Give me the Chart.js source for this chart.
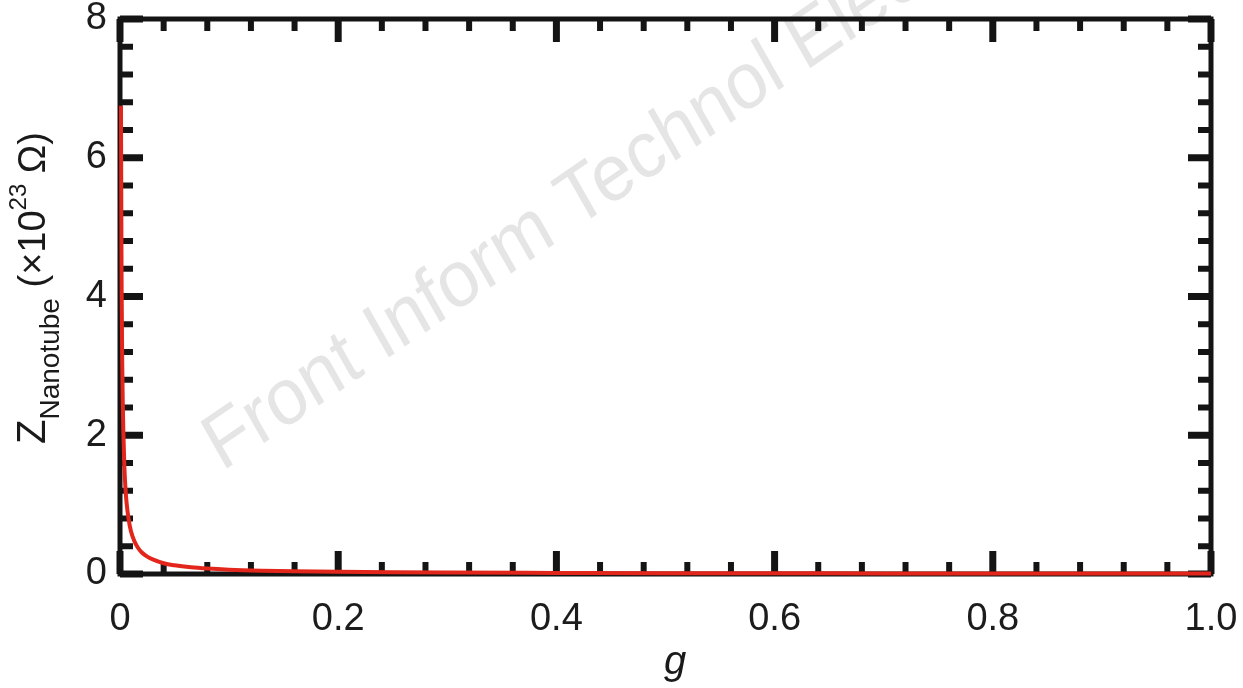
<!DOCTYPE html>
<html>
<head>
<meta charset="utf-8">
<script src="https://cdn.jsdelivr.net/npm/chart.js@4.4.0/dist/chart.umd.min.js"></script>
<style>
  html, body { margin: 0; padding: 0; background: #fff; }
  #wrap { width: 1243px; height: 688px; }
</style>
</head>
<body>
<div id="wrap"><canvas id="zChart"></canvas></div>
<script>
// values
const gValues = [0.0009, 0.001, 0.0012, 0.0015, 0.002, 0.0025, 0.003, 0.004, 0.005, 0.006, 0.008,
  0.01, 0.013, 0.016, 0.02, 0.025, 0.03, 0.04, 0.05, 0.065, 0.08, 0.1, 0.13, 0.16, 0.2,
  0.25, 0.3, 0.4, 0.5, 0.6, 0.7, 0.8, 0.9, 1.0];
const zValues = [6.75, 6.2, 5.2, 4.1, 3.1, 2.5, 2.1, 1.55, 1.24, 1.03, 0.78,
  0.62, 0.48, 0.39, 0.31, 0.25, 0.21, 0.155, 0.125, 0.096, 0.078, 0.062, 0.048, 0.039, 0.031,
  0.025, 0.021, 0.016, 0.012, 0.01, 0.009, 0.008, 0.007, 0.006];

const xMajorTicks = [0, 0.2, 0.4, 0.6, 0.8, 1.0];
const xTickLabels = ["0", "0.2", "0.4", "0.6", "0.8", "1.0"];
const xMinorStep = 0.04;
const yMajorTicks = [0, 2, 4, 6, 8];
const yTickLabels = ["0", "2", "4", "6", "8"];
const yMinorStep = 0.4;

const watermarkText = "Front Inform Technol Electron Eng";
const FONT = "'Liberation Sans', Arial, Helvetica, sans-serif";

const points = gValues.map((g, i) => ({ x: g, y: zValues[i] }));

// light grey watermark behind everything
const watermark = {
  id: "watermark",
  beforeDatasetsDraw(chart) {
    const ctx = chart.ctx;
    ctx.save();
    ctx.translate(222, 472);
    ctx.scale(0.91, 1);
    ctx.rotate(-32 * Math.PI / 180);
    ctx.font = "80px " + FONT;
    ctx.fillStyle = "#e5e5e5";
    ctx.textBaseline = "alphabetic";
    ctx.fillText(watermarkText, 0, 0);
    ctx.restore();
  }
};

// box frame with inward ticks on all four sides
const frame = {
  id: "frame",
  beforeDatasetsDraw(chart) {
    const ctx = chart.ctx;
    const { left, right, top, bottom } = chart.chartArea;
    const xs = chart.scales.x, ys = chart.scales.y;
    ctx.save();
    ctx.strokeStyle = "#141414";
    ctx.lineCap = "butt";

    function seg(x1, y1, x2, y2) {
      ctx.beginPath();
      ctx.moveTo(x1, y1);
      ctx.lineTo(x2, y2);
      ctx.stroke();
    }

    // minor ticks
    ctx.lineWidth = 6;
    const nx = Math.round(1 / xMinorStep);
    for (let i = 1; i < nx; i++) {
      const v = i * xMinorStep;
      if (xMajorTicks.some(m => Math.abs(m - v) < 1e-6)) continue;
      const px = xs.getPixelForValue(v);
      seg(px, bottom, px, bottom - 12);
      seg(px, top, px, top + 12);
    }
    const ny = Math.round(8 / yMinorStep);
    for (let i = 1; i < ny; i++) {
      const v = i * yMinorStep;
      if (yMajorTicks.some(m => Math.abs(m - v) < 1e-6)) continue;
      const py = ys.getPixelForValue(v);
      seg(left, py, left + 13, py);
      seg(right, py, right - 13, py);
    }

    // major ticks
    ctx.lineWidth = 7;
    xMajorTicks.forEach(v => {
      const px = xs.getPixelForValue(v);
      seg(px, bottom, px, bottom - 23);
      seg(px, top, px, top + 23);
    });
    yMajorTicks.forEach(v => {
      const py = ys.getPixelForValue(v);
      seg(left, py, left + 23, py);
      seg(right, py, right - 23, py);
    });

    ctx.lineWidth = 5;
    ctx.strokeRect(left, top, right - left, bottom - top);
    ctx.restore();
  }
};

// axis titles with sub/superscripts
const axisTitles = {
  id: "axisTitles",
  afterDraw(chart) {
    const ctx = chart.ctx;
    ctx.save();
    ctx.fillStyle = "#1a1a1a";
    ctx.textBaseline = "alphabetic";

    // x title
    ctx.font = "italic 40px " + FONT;
    ctx.textAlign = "center";
    ctx.fillText("g", 675, 674);

    // y title, rotated
    const parts = [
      { t: "Z", f: "40px " + FONT, dy: 0 },
      { t: "Nanotube", f: "28px " + FONT, dy: 14 },
      { t: " (×10", f: "38px " + FONT, dy: 0 },
      { t: "23", f: "24px " + FONT, dy: -19 },
      { t: " Ω)", f: "38px " + FONT, dy: 0 }
    ];
    let total = 0;
    parts.forEach(p => { ctx.font = p.f; p.w = ctx.measureText(p.t).width; total += p.w; });
    ctx.translate(45, 288);
    ctx.rotate(-Math.PI / 2);
    ctx.textAlign = "left";
    let x = -total / 2;
    parts.forEach(p => {
      ctx.font = p.f;
      ctx.fillText(p.t, x, p.dy);
      x += p.w;
    });
    ctx.restore();
  }
};

new Chart(document.getElementById("zChart"), {
  type: "scatter",
  data: {
    datasets: [
      {
        label: "Z",
        data: points,
        showLine: true,
        borderColor: "#e3261c",
        borderWidth: 4,
        pointRadius: 0,
        cubicInterpolationMode: "monotone",
        clip: false
      }
    ]
  },
  options: {
    responsive: true,
    maintainAspectRatio: false,
    animation: false,
    layout: { padding: { left: 0, right: 32, top: 19, bottom: 0 } },
    plugins: { legend: { display: false }, tooltip: { enabled: false } },
    scales: {
      x: {
        type: "linear",
        min: 0,
        max: 1,
        afterBuildTicks: (s) => { s.ticks = xMajorTicks.map(v => ({ value: v })); },
        ticks: {
          callback: (v, i) => xTickLabels[i],
          font: { size: 38, family: FONT },
          color: "#1c1c1c",
          padding: 23,
          maxRotation: 0,
          autoSkip: false
        },
        grid: { display: false, drawTicks: false },
        border: { display: false },
        afterFit: (s) => { s.height = 114; s.paddingLeft = 0; s.paddingRight = 0; }
      },
      y: {
        type: "linear",
        min: 0,
        max: 8,
        afterBuildTicks: (s) => { s.ticks = yMajorTicks.map(v => ({ value: v })); },
        ticks: {
          callback: (v, i) => yTickLabels[i],
          font: { size: 38, family: FONT },
          color: "#1c1c1c",
          padding: 13,
          autoSkip: false
        },
        grid: { display: false, drawTicks: false },
        border: { display: false },
        afterFit: (s) => { s.width = 120; s.paddingTop = 0; s.paddingBottom = 0; }
      }
    }
  },
  plugins: [watermark, frame, axisTitles]
});
</script>
</body>
</html>
